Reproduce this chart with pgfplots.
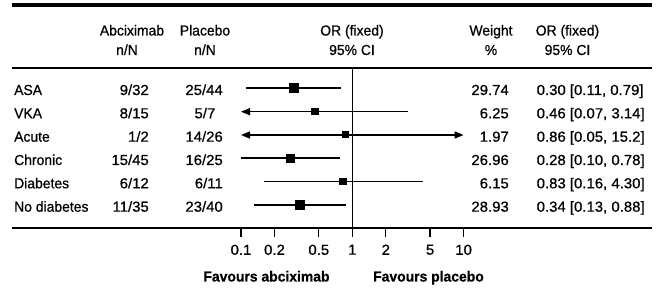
\documentclass[border=0pt]{standalone}
\usepackage{fontspec}
\setmainfont{Liberation Sans}[FakeStretch=0.96, FakeBold=0.6, BoldFeatures={FakeStretch=0.96}]
\newfontfamily\numfont{Liberation Sans}[FakeStretch=1.03, FakeBold=0.6]
\usepackage{pgfplots}
\pgfplotsset{compat=1.18}
\usetikzlibrary{arrows.meta}
\newcommand\fs{\fontsize{14.5}{16}\selectfont}
\begin{document}
\begin{tikzpicture}[x=1pt,y=1pt,font=\fs]
\begin{axis}[
  at={(12pt,61pt)}, anchor=south west,
  scale only axis, width=640pt, height=160pt,
  xmode=log, xmin=0.000876, xmax=492.8, ymin=0, ymax=160,
  axis x line=bottom, axis y line=none,
  axis line style={-, line width=1.5pt, black},
  xtick={0.1,0.2,0.5,1,2,5,10}, xticklabels={0.1,0.2,0.5,1,2,5,10},
  xminorticks=false, tick align=outside, major tick length=9pt,
  xtick style={line width=1.3pt, black},
  xticklabel style={font=\numfont\fs, anchor=north, inner sep=0pt, yshift=-7.5pt},
  clip=false,
]
% reference line at OR = 1
\addplot[line width=1.3pt] coordinates {(1,0) (1,160)};
% confidence intervals (clipped to 0.1 .. 10 with arrows)
\addplot[line width=1.8pt] coordinates {(0.11,139.7) (0.79,139.7)};
\addplot[line width=1.2pt, {Triangle[length=9pt,width=7pt]}-] coordinates {(0.1,116.3) (3.14,116.3)};
\addplot[line width=1.5pt, {Triangle[length=9pt,width=7pt]}-{Triangle[length=9pt,width=7pt]}] coordinates {(0.1,93) (10,93)};
\addplot[line width=1.8pt] coordinates {(0.10,69.7) (0.78,69.7)};
\addplot[line width=1.2pt] coordinates {(0.16,46.3) (4.30,46.3)};
\addplot[line width=1.8pt] coordinates {(0.13,23) (0.88,23)};
% point estimates
\addplot[only marks, mark=square*, mark size=4.4pt, mark options={fill=black, line width=0pt}] coordinates {(0.30,139.7)};
\addplot[only marks, mark=square*, mark size=3.3pt, mark options={fill=black, line width=0pt}] coordinates {(0.46,116.3)};
\addplot[only marks, mark=square*, mark size=3.0pt, mark options={fill=black, line width=0pt}] coordinates {(0.86,93)};
\addplot[only marks, mark=square*, mark size=4.1pt, mark options={fill=black, line width=0pt}] coordinates {(0.28,69.7)};
\addplot[only marks, mark=square*, mark size=3.3pt, mark options={fill=black, line width=0pt}] coordinates {(0.83,46.3)};
\addplot[only marks, mark=square*, mark size=4.2pt, mark options={fill=black, line width=0pt}] coordinates {(0.34,23)};
\end{axis}
% rules
\draw[line width=4.5pt] (12,283.75) -- (652,283.75);
\draw[line width=1.3pt] (12,221) -- (652,221);
% headers
\begin{scope}[every node/.style={inner sep=0pt}]
\node[anchor=base] at (132,253.5) {Abciximab};
\node[anchor=base] at (127,234) {n/N};
\node[anchor=base] at (205,253.5) {Placebo};
\node[anchor=base] at (205,234) {n/N};
\node[anchor=base] at (352,253.5) {OR (fixed)};
\node[anchor=base] at (352,234) {95\% CI};
\node[anchor=base] at (491,253.5) {Weight};
\node[anchor=base] at (491,234) {\%};
\node[anchor=base] at (567.5,253.5) {OR (fixed)};
\node[anchor=base] at (567.5,234) {95\% CI};
% row labels
\node[anchor=base west] at (14,194) {ASA};
\node[anchor=base west] at (14,170.7) {VKA};
\node[anchor=base west] at (14,147.3) {Acute};
\node[anchor=base west] at (14,124) {Chronic};
\node[anchor=base west] at (14,100.7) {Diabetes};
\node[anchor=base west] at (14,77.3) {No diabetes};
% abciximab n/N
\node[anchor=base east, font=\numfont\fs] at (149,194) {9/32};
\node[anchor=base east, font=\numfont\fs] at (149,170.7) {8/15};
\node[anchor=base east, font=\numfont\fs] at (149,147.3) {1/2};
\node[anchor=base east, font=\numfont\fs] at (149,124) {15/45};
\node[anchor=base east, font=\numfont\fs] at (149,100.7) {6/12};
\node[anchor=base east, font=\numfont\fs] at (149,77.3) {11/35};
% placebo n/N
\node[anchor=base east, font=\numfont\fs] at (223,194) {25/44};
\node[anchor=base east, font=\numfont\fs] at (215.5,170.7) {5/7};
\node[anchor=base east, font=\numfont\fs] at (223,147.3) {14/26};
\node[anchor=base east, font=\numfont\fs] at (223,124) {16/25};
\node[anchor=base east, font=\numfont\fs] at (223,100.7) {6/11};
\node[anchor=base east, font=\numfont\fs] at (223,77.3) {23/40};
% weights
\node[anchor=base east, font=\numfont\fs] at (509,194) {29.74};
\node[anchor=base east, font=\numfont\fs] at (509,170.7) {6.25};
\node[anchor=base east, font=\numfont\fs] at (509,147.3) {1.97};
\node[anchor=base east, font=\numfont\fs] at (509,124) {26.96};
\node[anchor=base east, font=\numfont\fs] at (509,100.7) {6.15};
\node[anchor=base east, font=\numfont\fs] at (509,77.3) {28.93};
% OR [CI]
\node[anchor=base west, font=\numfont\fs] at (536.5,194) {0.30 [0.11, 0.79]};
\node[anchor=base west, font=\numfont\fs] at (536.5,170.7) {0.46 [0.07, 3.14]};
\node[anchor=base west, font=\numfont\fs] at (536.5,147.3) {0.86 [0.05, 15.2]};
\node[anchor=base west, font=\numfont\fs] at (536.5,124) {0.28 [0.10, 0.78]};
\node[anchor=base west, font=\numfont\fs] at (536.5,100.7) {0.83 [0.16, 4.30]};
\node[anchor=base west, font=\numfont\fs] at (536.5,77.3) {0.34 [0.13, 0.88]};
% favours
\node[anchor=base, font=\bfseries\fs] at (266.5,7.5) {Favours abciximab};
\node[anchor=base, font=\bfseries\fs] at (428.5,7.5) {Favours placebo};
\end{scope}
\pgfresetboundingbox
\path (0,0) rectangle (662,289);
\end{tikzpicture}
\end{document}
